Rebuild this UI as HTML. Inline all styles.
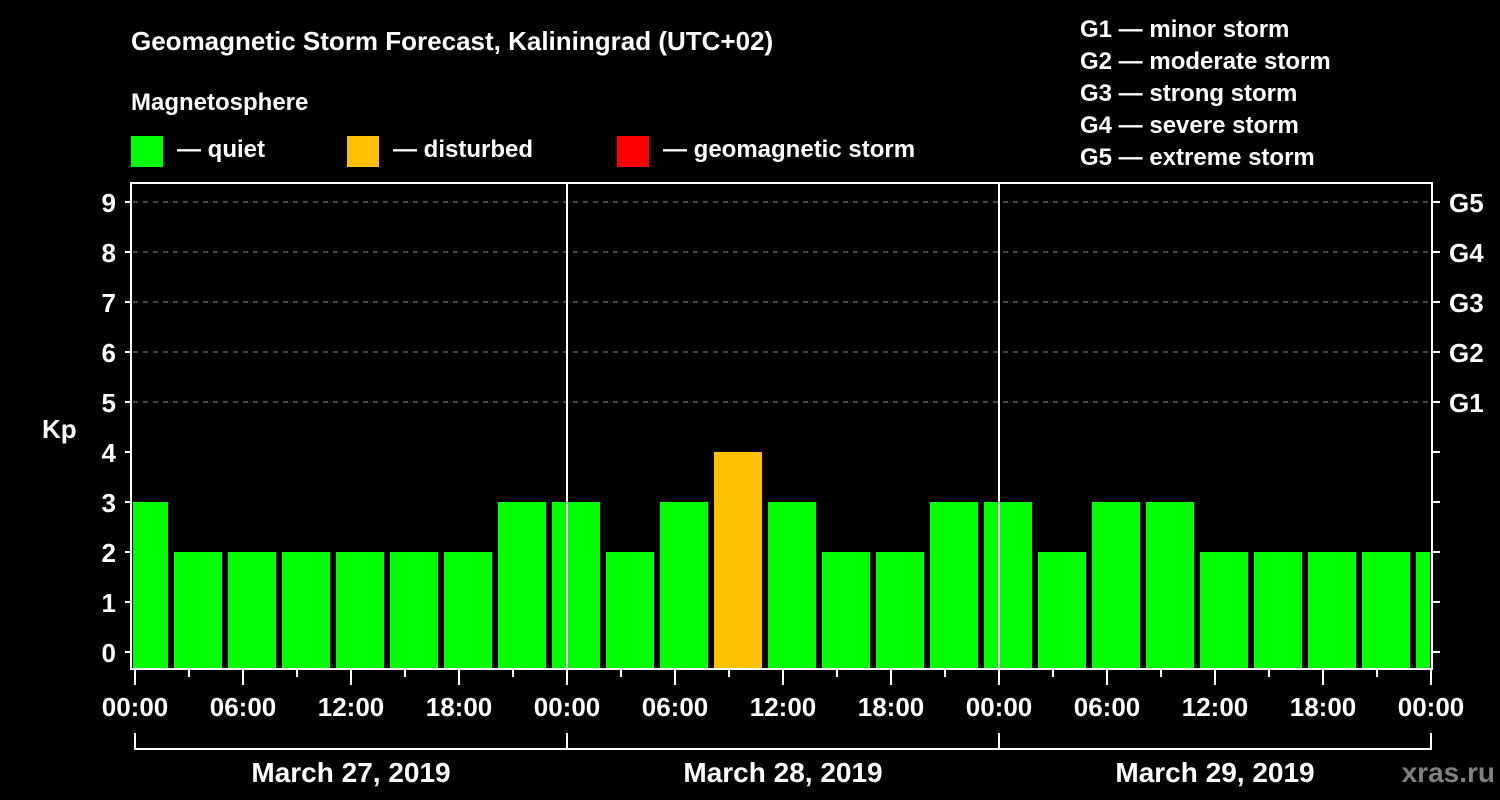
<!DOCTYPE html>
<html><head><meta charset="utf-8"><style>
html,body{margin:0;padding:0;background:#000;}
svg{display:block;font-family:"Liberation Sans",Arial,sans-serif;font-weight:bold;}
</style></head><body>
<svg id="chart" width="1500" height="800" viewBox="0 0 1500 800">
<rect width="1500" height="800" fill="#000"/>
<text x="131" y="50" fill="#fff" font-size="26">Geomagnetic Storm Forecast, Kaliningrad (UTC+02)</text>
<text x="131" y="110" fill="#fff" font-size="24">Magnetosphere</text>
<g><rect x="131" y="136" width="32" height="31" fill="#00ff00"/><text x="177" y="157" fill="#fff" font-size="24">— quiet</text></g>
<g><rect x="347" y="136" width="32" height="31" fill="#ffc000"/><text x="393" y="157" fill="#fff" font-size="24">— disturbed</text></g>
<g><rect x="617" y="136" width="32" height="31" fill="#ff0000"/><text x="663" y="157" fill="#fff" font-size="24">— geomagnetic storm</text></g>
<g fill="#fff" font-size="24">
<text x="1080" y="37">G1 — minor storm</text>
<text x="1080" y="69">G2 — moderate storm</text>
<text x="1080" y="101">G3 — strong storm</text>
<text x="1080" y="133">G4 — severe storm</text>
<text x="1080" y="165">G5 — extreme storm</text>
</g>
<text x="42" y="438" fill="#fff" font-size="26">Kp</text>
<text x="1495" y="782" fill="#808080" font-size="28" text-anchor="end">xras.ru</text>
<defs><clipPath id="pc"><rect x="133" y="183" width="1297" height="485"/></clipPath></defs>
<g id="grid"></g>
<g id="bars" clip-path="url(#pc)"></g>
<g id="axes"></g>
</svg>
<script>
const kpValues=[3,2,2,2,2,2,2,3, 3,2,3,4,3,2,2,3, 3,2,3,3,2,2,2,2,2];
const yTicks=[0,1,2,3,4,5,6,7,8,9];
const gLabels=["G1","G2","G3","G4","G5"];
const timeLabels=["00:00","06:00","12:00","18:00"];
const dayLabels=["March 27, 2019","March 28, 2019","March 29, 2019"];
const NS="http://www.w3.org/2000/svg";
const X0=135, PXH=18;
const xh=h=>X0+h*PXH;
const yk=k=>652-k*50;
function mk(tag,attrs,parent,txt){const e=document.createElementNS(NS,tag);for(const k in attrs)e.setAttribute(k,attrs[k]);if(txt!==undefined)e.textContent=txt;parent.appendChild(e);return e;}
const grid=document.getElementById('grid'),bars=document.getElementById('bars'),axes=document.getElementById('axes');
yTicks.forEach(k=>{
  if(k>=5){const l=mk('line',{x1:133,x2:1430,y1:yk(k),y2:yk(k),stroke:'#888','stroke-width':1,'stroke-dasharray':'5,5'},grid);
  
  }
  const t=mk('line',{x1:125,x2:131,y1:yk(k),y2:yk(k),stroke:'#fff','stroke-width':2},axes);
  
  
  const t2=mk('line',{x1:1432,x2:1440,y1:yk(k),y2:yk(k),stroke:'#fff','stroke-width':2},axes);
  
  
  const lb=mk('text',{x:116,y:yk(k)+10,fill:'#fff','font-size':26,'text-anchor':'end'},axes,String(k));
  
  
});
gLabels.forEach((g,i)=>{
  const lb=mk('text',{x:1449,y:yk(5+i)+10,fill:'#fff','font-size':26},axes,g);
  
  
});
kpValues.forEach((v,i)=>{
  const c=xh(0.5+3*i);
  const r=mk('rect',{x:c-24,y:yk(v),width:48,height:668-yk(v),fill:v>=5?'#ff0000':(v>=4?'#ffc000':'#00ff00')},bars);
  
  
});
[1,2].forEach(d=>{const l=mk('line',{x1:xh(24*d),x2:xh(24*d),y1:183,y2:668,stroke:'#fff','stroke-width':2},axes);
  
  });
const fr=mk('rect',{x:131,y:183,width:1301,height:486,fill:'none',stroke:'#fff','stroke-width':2},axes);


for(let h=0;h<=72;h+=3){
  const big=h%6===0;
  const t=mk('line',{x1:xh(h),x2:xh(h),y1:669,y2:big?685:677,stroke:'#fff','stroke-width':2},axes);
  
  
  if(big){const lb=mk('text',{x:xh(h),y:716,fill:'#fff','font-size':26,'text-anchor':'middle'},axes,timeLabels[(h/6)%4]);
  
  }
}
const br=mk('line',{x1:xh(0),x2:xh(72),y1:749,y2:749,stroke:'#fff','stroke-width':2},axes);


[0,1,2,3].forEach(d=>{const l=mk('line',{x1:xh(24*d),x2:xh(24*d),y1:733,y2:750,stroke:'#fff','stroke-width':2},axes);
  
  });
dayLabels.forEach((s,d)=>{const lb=mk('text',{x:xh(24*d+12),y:782,fill:'#fff','font-size':28,'text-anchor':'middle'},axes,s);
  
  });
</script>
</body></html>
